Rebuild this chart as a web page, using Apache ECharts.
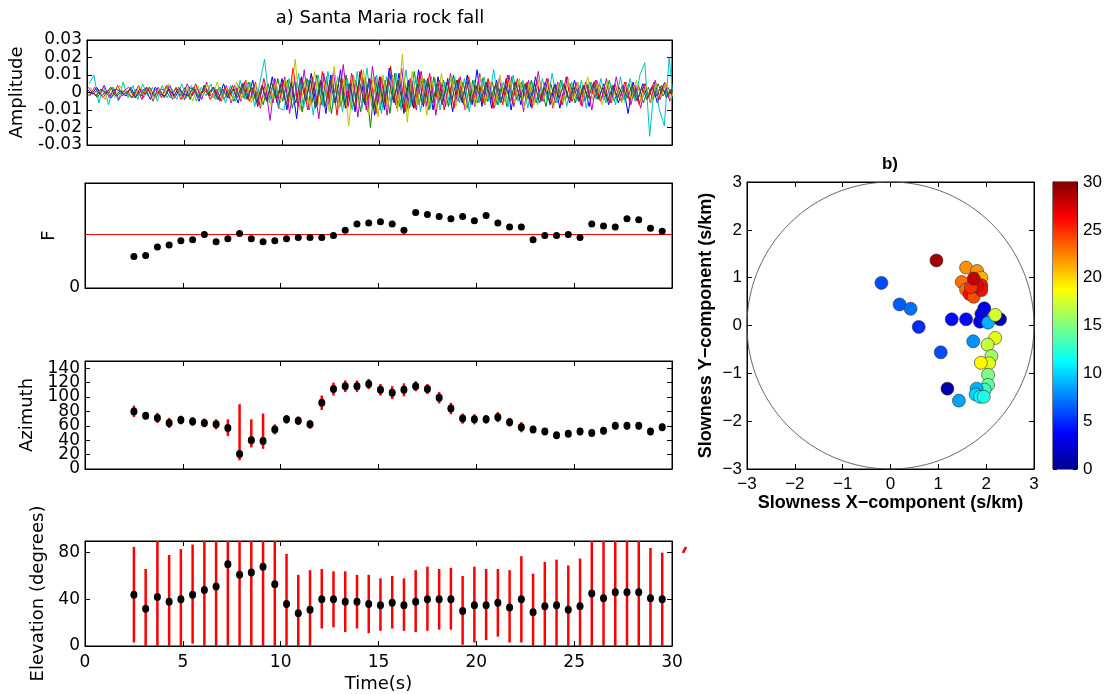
<!DOCTYPE html>
<html><head><meta charset="utf-8">
<script src="https://cdn.jsdelivr.net/npm/echarts@6/dist/echarts.min.js"></script>
<style>html,body{margin:0;padding:0;background:#fff}#c{width:1105px;height:694px}</style>
</head><body><div id="c"></div>
<script>
// ---------- data ----------
const times = [2.5,3.1,3.7,4.3,4.9,5.5,6.1,6.7,7.3,7.9,8.5,9.1,9.7,10.3,10.9,11.5,12.1,12.7,13.3,13.9,14.5,15.1,15.7,16.3,16.9,17.5,18.1,18.7,19.3,19.9,20.5,21.1,21.7,22.3,22.9,23.5,24.1,24.7,25.3,25.9,26.5,27.1,27.7,28.3,28.9,29.5];
const fVals = [0.30,0.31,0.39,0.41,0.45,0.46,0.51,0.44,0.47,0.52,0.47,0.44,0.45,0.47,0.48,0.48,0.48,0.50,0.55,0.61,0.62,0.63,0.61,0.55,0.72,0.70,0.68,0.66,0.68,0.64,0.69,0.62,0.58,0.58,0.46,0.50,0.50,0.51,0.48,0.61,0.59,0.58,0.66,0.65,0.57,0.54];
const fThreshold = 0.513;
const azVals = [80,74,71,64,68,66,64,62,57,21,40,39,55,69,67,62,92,111,115,115,118,110,106,110,115,111,99,84,70,69,69,72,65,58,55,52,47,49,52,50,53,60,60,60,52,58];
const azLow  = [72,69,64,57,62,60,58,55,46,12,30,28,48,63,61,56,82,102,107,107,111,102,97,101,108,104,91,76,63,62,63,65,59,51,50,48,43,45,47,45,48,55,55,55,47,53];
const azHigh = [88,79,78,71,74,72,70,69,69,90,69,77,62,75,73,68,102,120,123,123,125,118,115,119,122,118,107,92,77,76,75,79,71,65,60,56,51,53,57,55,58,65,65,65,57,63];
const elVals = [44,32,42,38,40,44,48,51,70,61,63,68,53,36,28,31,40,40,38,38,36,35,37,35,38,40,40,40,30,35,35,37,33,40,29,34,35,31,34,45,41,46,46,46,41,40];
const elLow  = [3,0,0,0,0,2,0,0,0,0,0,0,0,0,0,0,15,16,12,15,11,13,15,13,12,13,14,14,1,3,5,8,3,3,0,0,0,0,0,0,0,0,0,0,0,0];
const elHigh = [85,66,90,78,83,87,90,90,90,90,90,90,90,79,61,65,66,64,64,61,61,58,60,58,65,68,66,67,60,68,66,66,65,77,62,72,74,69,75,90,90,90,90,90,84,80];

// waveform traces (units of 0.001), sampled every wDt seconds, each trace with its own start offset
const wDt = 0.25;
const wOffsets = [0, 0.035, 0.07, 0.105, 0.14, 0.175, 0.21];
const wBlue = [2,-1,3,-2,1,-3,2,0,-2,3, -3,1,2,-4,3,-1,-2,4,-3,2, -4,3,1,-5,4,-2,3,-4,5,-3, 2,-6,5,-3,7,-8,4,-5,9,-6,
  8,-10,6,-15,9,-4,11,-8,7,-12, 10,-6,13,-9,5,-11,12,-7,8,-13, 9,-10,14,-6,11,-12,7,-9,13,-8, 6,-10,9,-5,8,-11,7,-6,10,-7,
  13,-8,6,-9,7,-5,8,-10,6,-7, 5,-8,9,-4,6,-7,5,-9,4,-6, 7,-5,4,-8,6,-3,5,-7,4,-6, 3,-12,6,-4,5,-3,4,-6,3,-2, 2];
const wGreen = [-2,1,-3,2,-1,3,-2,1,0,-3, 2,-2,3,-1,-3,2,1,-3,2,-2, 3,-4,2,-3,4,-1,-3,3,-4,2, -5,4,-3,6,-4,2,-7,5,-6,8,
  -5,7,-9,6,-11,8,-6,10,-7,9, -12,6,-8,10,-9,7,-11,8,-20,9, -10,7,-12,11,-8,6,-9,12,-7,8, -10,9,-6,7,-8,10,-5,6,-9,7,
  -6,8,-5,6,-7,5,-8,9,-4,6, -5,7,-6,4,-8,5,-6,7,-4,5, -6,4,-5,6,-3,5,-4,7,-5,3, -4,5,-3,4,-6,3,-4,5,-2,3, -2];
const wRed = [3,-1,2,-3,1,-2,4,-2,1,-3, 2,-4,3,-1,2,-3,4,-2,3,-4, 1,-3,5,-2,3,-4,2,-5,3,-2, 4,-3,6,-5,3,-7,8,-4,6,-9,
  7,-5,14,-8,6,-10,9,-7,12,-6, 10,-13,8,-9,11,-6,13,-10,7,-12, 9,-8,15,-7,10,-11,8,-9,12,-6, 11,-8,7,-10,6,-9,8,-7,9,-5,
  7,-6,8,-9,5,-7,10,-6,8,-5, 6,-9,7,-5,8,-6,4,-7,9,-5, 5,-7,6,-4,7,-5,3,-6,5,-4, 6,-5,4,-7,5,-3,6,-4,5,-3, 3];
const wCyan = [5,10,-6,4,-7,3,-5,6,-3,4, -4,5,-2,3,-5,4,-3,2,-4,5, -3,4,-5,3,-2,5,-4,3,-6,4, -5,7,-4,6,-8,5,19,-6,8,-9,
  -10,8,-6,11,-9,7,-13,10,-8,12, -7,9,-11,8,-10,12,-9,14,-8,10, -12,9,-7,11,-10,13,-8,9,-11,7, -9,8,-10,6,-7,9,-6,8,-11,7,
  -6,9,-5,13,-7,6,-8,10,-5,7, -9,6,-7,8,-5,11,-6,7,-8,6, -5,7,-9,6,-4,8,-6,5,-7,9, -6,8,-5,10,17,-25,6,-10,-19,20, -8];
const wMagenta = [-2,3,-1,4,-3,2,-4,1,3,-2, 4,-3,2,-5,3,-1,4,-4,2,-3, 5,-2,3,-4,6,-3,2,-5,4,-6, 3,-5,7,-4,6,-9,5,-16,8,-6,
  9,-12,7,-8,13,-10,6,-15,11,-7, 12,-9,16,-8,10,-14,9,-11,15,-7, 8,-13,10,-9,14,-11,7,-10,12,-8, 9,-13,6,-8,11,-7,9,-10,5,-8,
  11,-7,6,-9,8,-5,10,-8,6,-11, 7,-6,12,-5,8,-9,6,-7,9,-5, 6,-8,5,-10,7,-4,8,-6,9,-5, 6,-7,4,-9,5,-6,7,-4,6,-5, 3];
const wYellow = [3,-2,1,-4,2,-3,4,-1,2,-3, 4,-2,3,-4,2,-1,5,-3,2,-4, 3,-5,4,-2,5,-3,6,-4,3,-5, 6,-4,7,-6,5,-8,4,-7,6,-5,
  8,-6,19,-10,7,-9,12,-8,6,-11, 15,-9,8,-19,10,-7,13,-12,9,-14, 10,-8,9,-11,22,-17,12,-7,10,-13, 8,-9,11,-6,9,-8,7,-10,6,-8,
  9,-7,6,-8,10,-5,7,-6,8,-9, 5,-7,8,-4,6,-9,5,-6,7,-4, 6,-5,9,-4,5,-7,6,-5,4,-6, 5,-4,7,-5,4,-6,5,-3,6,-4, 3];
const wGray = [1,-2,2,-1,3,-2,1,-1,2,-3, 2,-1,3,-2,1,-3,2,-2,3,-1, -2,3,-3,2,-1,3,-4,2,-3,4, -3,5,-4,3,-6,4,-5,6,-4,5,
  -7,5,-6,8,-5,7,-9,6,-8,7, -6,9,-7,5,-8,7,-6,8,-9,6, -7,8,-5,7,-9,6,-8,5,-7,8, -6,5,-7,6,-4,7,-5,6,-6,4,
  -5,6,-4,5,-6,4,-5,6,-3,5, -4,5,-6,3,-5,4,-3,5,-4,3, -5,4,-3,5,-4,3,-5,4,-3,4, -3,4,-5,3,-4,3,-2,4,-3,2, -2];
const wTraces = [wBlue, wGreen, wRed, wCyan, wMagenta, wYellow, wGray];
const wColors = ['#0000ff','#008000','#ff0000','#00c0c0','#c000c0','#c0c000','#404040'];

// slowness points: x (s/km), y (s/km), time (s)
const slowX = [0.96,-0.19,0.19,0.42,0.59,1.05,1.19,1.43,1.28,1.58,1.73,1.87,1.90,1.96,2.29,2.04,2.19,2.19,2.03,2.11,2.06,1.89,2.04,2.04,1.97,1.80,1.78,1.87,1.95,1.58,1.81,1.90,1.49,1.58,1.65,1.74,1.90,1.90,1.81,1.68,1.74];
const slowY = [1.36,0.89,0.44,0.35,-0.03,-0.56,-1.32,-1.57,0.13,0.13,-0.33,0.08,0.24,0.36,0.13,0.06,0.22,-0.26,-0.40,-0.64,-0.79,-0.78,-1.03,-1.24,-1.34,-1.32,-1.44,-1.49,-1.49,1.21,1.14,1.00,0.91,0.75,0.66,0.60,0.84,0.74,0.82,0.80,0.98];
const slowT = [29,6,6.5,7,5,6,1,8.5,4,4,8,3,3,3,1,9,17.5,18,17,16,18,19,15,14,13,9,10,11,12,22,22,21,23,23,26,24,26,26,27,25,28];
const circleRadius = 3;
const jet = ['#00008f','#0000ff','#0080ff','#00ffff','#80ff80','#ffff00','#ff8000','#ff0000','#800000'];

// ---------- chart ----------
const FL = '"DejaVu Sans", sans-serif';
const FR = '"Liberation Sans", Arial, sans-serif';
const tick = (len) => ({show:true, inside:true, length:len, lineStyle:{color:'#000', width:1}});
const noTick = {show:false};
const line = {show:true, onZero:false, lineStyle:{color:'#000', width:1}};
const labL = (extra) => Object.assign({show:true, color:'#000', fontFamily:FL, fontSize:17, margin:5, showMinLabel:true}, extra||{});
const labR = (extra) => Object.assign({show:true, color:'#000', fontFamily:FR, fontSize:17, margin:5, showMinLabel:true, showMaxLabel:true}, extra||{});

const leftGrid = {left:85, width:587};
const grids = [
  Object.assign({top:40, height:105}, leftGrid),
  Object.assign({top:183, height:105}, leftGrid),
  Object.assign({top:361, height:108}, leftGrid),
  Object.assign({top:541, height:107}, leftGrid),
  {left:747, top:182, width:287, height:287},
  {left:1053, top:182, width:24, height:287}
].map(g => Object.assign({show:true, borderColor:'#000', borderWidth:1, backgroundColor:'transparent'}, g));

const xAxes = [], yAxes = [];
function timeAxes(gi, withLabels){
  xAxes.push({type:'value', gridIndex:gi, position:'bottom', min:0, max:30, interval:5,
    axisLine:line, axisTick:tick(5), splitLine:{show:false},
    axisLabel: withLabels ? labL({margin:8, showMaxLabel:true}) : {show:false},
    name: withLabels ? 'Time(s)' : '', nameLocation:'middle', nameGap:29,
    nameTextStyle:{fontFamily:FL, fontSize:18, color:'#000'}});
  xAxes.push({type:'value', gridIndex:gi, position:'top', min:0, max:30, interval:5,
    axisLine:line, axisTick:tick(5), splitLine:{show:false}, axisLabel:{show:false}});
}
function leftY(gi, cfg, name, gap, ticks){
  yAxes.push(Object.assign({type:'value', gridIndex:gi, position:'left', axisLine:line,
    axisTick: ticks ? tick(5) : noTick, splitLine:{show:false},
    name:name, nameLocation:'middle', nameGap:gap, nameRotate:90,
    nameTextStyle:{fontFamily:FL, fontSize:18, color:'#000'}}, cfg));
  yAxes.push({type:'value', gridIndex:gi, position:'right', min:cfg.min, max:cfg.max, interval:cfg.interval,
    axisLine:line, axisTick: ticks ? tick(5) : noTick, splitLine:{show:false}, axisLabel:{show:false}});
}
// grid 0: amplitude
timeAxes(0, false);
leftY(0, {min:-0.03, max:0.03, interval:0.01,
  axisLabel: labL({showMaxLabel:true, formatter: v => Math.abs(v) < 1e-9 ? '0' : v.toFixed(2)})}, 'Amplitude', 61, true);
// grid 1: F
timeAxes(1, false);
leftY(1, {min:0, max:1, interval:1, axisLabel: labL({formatter: v => v === 0 ? '0' : ''})}, 'F', 26, false);
// grid 2: azimuth (labels 20..140 here, the "0" label from an extra axis below)
timeAxes(2, false);
leftY(2, {min:0, max:150, interval:20, axisLabel: labL({showMinLabel:false, showMaxLabel:false})}, 'Azimuth', 45, true);
// grid 3: elevation
timeAxes(3, true);
leftY(3, {min:0, max:90, interval:40, axisLabel: labL({showMaxLabel:false})}, 'Elevation (degrees)', 35, true);
// grid 4: slowness
const minusFmt = v => v < 0 ? '\u2212' + (-v) : String(v);
xAxes.push({type:'value', gridIndex:4, position:'bottom', min:-3, max:3, interval:1, axisLine:line, axisTick:tick(5),
  splitLine:{show:false}, axisLabel: labR({formatter:minusFmt, margin:7}),
  name:'Slowness X\u2212component (s/km)', nameLocation:'middle', nameGap:24,
  nameTextStyle:{fontFamily:FR, fontSize:18, fontWeight:'bold', color:'#000'}});
xAxes.push({type:'value', gridIndex:4, position:'top', min:-3, max:3, interval:1, axisLine:line, axisTick:tick(5),
  splitLine:{show:false}, axisLabel:{show:false}});
yAxes.push({type:'value', gridIndex:4, position:'left', min:-3, max:3, interval:1, axisLine:line, axisTick:tick(5),
  splitLine:{show:false}, axisLabel: labR({formatter:minusFmt, margin:5}),
  name:'Slowness Y\u2212component (s/km)', nameLocation:'middle', nameGap:32, nameRotate:90,
  nameTextStyle:{fontFamily:FR, fontSize:18, fontWeight:'bold', color:'#000'}});
yAxes.push({type:'value', gridIndex:4, position:'right', min:-3, max:3, interval:1, axisLine:line, axisTick:tick(5),
  splitLine:{show:false}, axisLabel:{show:false}});
// grid 5: colorbar
xAxes.push({type:'category', gridIndex:5, data:[''], show:false});
yAxes.push({type:'value', gridIndex:5, position:'right', min:0, max:30, interval:5, axisLine:line, axisTick:tick(4),
  splitLine:{show:false}, axisLabel: labR({margin:6})});
yAxes.push({type:'value', gridIndex:5, position:'left', min:0, max:30, interval:5, axisLine:line, axisTick:tick(4),
  splitLine:{show:false}, axisLabel:{show:false}});
// extra azimuth axis carrying only the "0" label
yAxes.push({type:'value', gridIndex:2, position:'left', offset:0, min:0, max:150, interval:150,
  axisLine:{show:false}, axisTick:{show:false}, splitLine:{show:false},
  axisLabel: labL({showMaxLabel:false, formatter: v => v === 0 ? '0' : ''})});

const series = [];
wTraces.forEach((tr, k) => {
  series.push({type:'line', xAxisIndex:0, yAxisIndex:0, showSymbol:false, symbol:'none',
    data: tr.map((v, i) => [i * wDt + wOffsets[k], v / 1000]),
    lineStyle:{color:wColors[k], width:1}, silent:true, z:2});
});
const blackDot = {color:'#000', opacity:1};
series.push({type:'scatter', xAxisIndex:2, yAxisIndex:2, data: times.map((t,i)=>[t, fVals[i]]),
  symbol:'circle', symbolSize:7, itemStyle:blackDot, z:5,
  markLine:{silent:true, symbol:'none', label:{show:false}, animation:false,
    lineStyle:{color:'#ff0000', width:1, type:'solid'}, data:[{yAxis:fThreshold}]}});
function errSeries(xi, yi, lows, highs){
  return {type:'custom', xAxisIndex:xi, yAxisIndex:yi, clip:true, silent:true, z:3,
    data: times.map((t,i)=>[t, lows[i], highs[i]]),
    encode:{x:0, y:[1,2]},
    renderItem:(params, api) => {
      const p1 = api.coord([api.value(0), api.value(1)]);
      const p2 = api.coord([api.value(0), api.value(2)]);
      return {type:'line', shape:{x1:p1[0], y1:p1[1], x2:p2[0], y2:p2[1]},
        style:{stroke:'#ff0000', lineWidth:2.5}};
    }};
}
series.push(errSeries(4, 4, azLow, azHigh));
series.push({type:'scatter', xAxisIndex:4, yAxisIndex:4, data: times.map((t,i)=>[t, azVals[i]]),
  symbol:'circle', symbolSize:[7,8], itemStyle:blackDot, z:5});
series.push(errSeries(6, 6, elLow, elHigh));
series.push({type:'scatter', xAxisIndex:6, yAxisIndex:6, data: times.map((t,i)=>[t, elVals[i]]),
  symbol:'circle', symbolSize:[7,8], itemStyle:blackDot, z:5});
const circ = [];
for (let a = 0; a <= 360; a += 2) {
  const r = a * Math.PI / 180;
  circ.push([circleRadius * Math.cos(r), circleRadius * Math.sin(r)]);
}
series.push({type:'line', xAxisIndex:8, yAxisIndex:8, data:circ, showSymbol:false, symbol:'none',
  lineStyle:{color:'#555', width:0.9}, silent:true, z:2});
const scatterIndex = series.length;
series.push({type:'scatter', xAxisIndex:8, yAxisIndex:8,
  data: slowX.map((x,i)=>[x, slowY[i], slowT[i]]),
  symbol:'circle', symbolSize:13, itemStyle:{borderColor:'#333', borderWidth:0.6, opacity:1}, z:5});
series.push({type:'bar', xAxisIndex:10, yAxisIndex:10, data:[30], barWidth:'100%', silent:true,
  itemStyle:{color: new echarts.graphic.LinearGradient(0,1,0,0,
    jet.map((c,i)=>({offset:i/(jet.length-1), color:c})))}});

const chart = echarts.init(document.getElementById('c'), null, {renderer:'canvas'});
chart.setOption({
  animation:false,
  backgroundColor:'#fff',
  grid:grids, xAxis:xAxes, yAxis:yAxes, series:series,
  visualMap:[{type:'continuous', show:false, min:0, max:30, dimension:2, seriesIndex:scatterIndex,
    inRange:{color:jet}}],
  graphic:[
    {type:'text', x:380, y:18, style:{text:'a) Santa Maria rock fall', fontSize:18, fontFamily:FL, fill:'#000',
      align:'center', verticalAlign:'middle', textAlign:'center', textVerticalAlign:'middle'}},
    {type:'text', x:890, y:164, style:{text:'b)', fontSize:17, fontWeight:'bold', fontFamily:FR, fill:'#000',
      align:'center', verticalAlign:'middle', textAlign:'center', textVerticalAlign:'middle'}},
    {type:'line', shape:{x1:683, y1:553, x2:686, y2:547}, style:{stroke:'#e00000', lineWidth:2.5}}
  ]
});
</script>
</body></html>
